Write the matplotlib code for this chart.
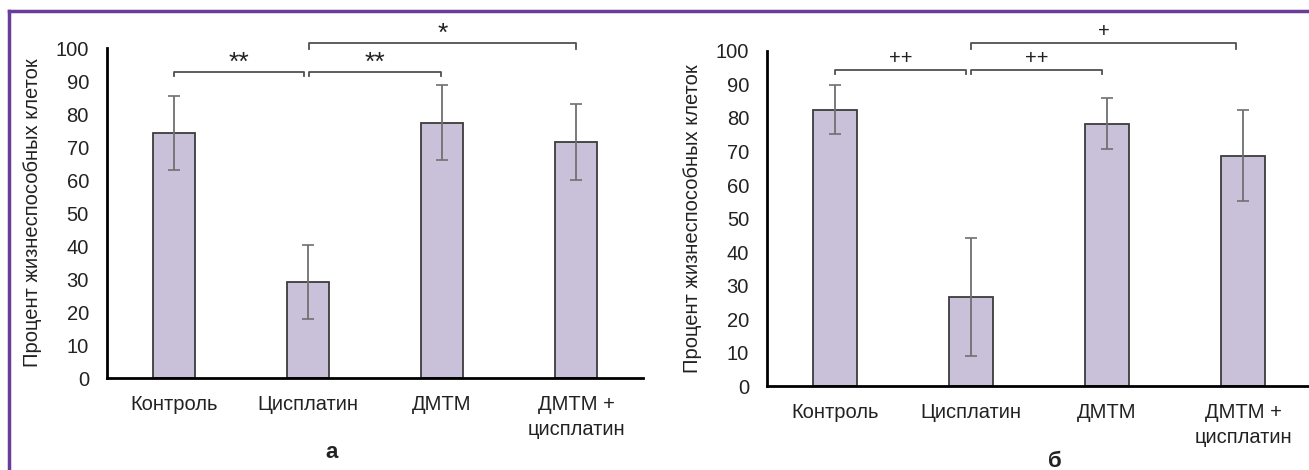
import matplotlib
matplotlib.use("Agg")
import matplotlib.pyplot as plt
from matplotlib.lines import Line2D

plt.rcParams['font.family'] = ['Liberation Sans', 'DejaVu Sans']

categories = ["Контроль", "Цисплатин", "ДМТМ", "ДМТМ +\nцисплатин"]
y_label = "Процент жизнеспособных клеток"
yticks = [0, 10, 20, 30, 40, 50, 60, 70, 80, 90, 100]

# panel а
values_a = [74.3, 29.1, 77.4, 71.6]
errors_a = [11.3, 11.3, 11.4, 11.4]
brackets_a = [(0.0, 0.97, 92.7, "**"), (1.01, 1.99, 92.7, "**"), (1.01, 3.0, 101.5, "*")]

# panel б
values_b = [82.5, 26.7, 78.3, 68.8]
errors_b = [7.3, 17.6, 7.6, 13.7]
brackets_b = [(0.0, 0.96, 94.3, "++"), (1.0, 1.96, 94.3, "++"), (1.0, 2.95, 102.5, "+")]

BAR = "#c9c0da"
EDGE = "#3c3c3c"
ERR = "#707070"
BRK = "#505050"
FS = 14.5


def draw_panel(ax, values, errors, brackets, letter, letter_x):
    x = list(range(len(categories)))
    ax.bar(x, values, width=0.32, color=BAR, edgecolor=EDGE, linewidth=1.3, zorder=2)
    ax.errorbar(x, values, yerr=errors, fmt="none", ecolor=ERR, elinewidth=1.3,
                capsize=4, capthick=1.2, zorder=3)
    ax.set_xlim(-0.5, 3.5)
    ax.set_ylim(0, 100)
    ax.set_yticks(yticks)
    ax.set_xticks(x)
    ax.set_xticklabels(categories, fontsize=FS, linespacing=1.45, color="#222222")
    ax.tick_params(axis="y", length=0, pad=13, labelsize=FS, labelcolor="#222222")
    ax.tick_params(axis="x", length=0, pad=12)
    for s in ("top", "right"):
        ax.spines[s].set_visible(False)
    for s in ("left", "bottom"):
        ax.spines[s].set_linewidth(2)
        ax.spines[s].set_color("black")
    ax.set_ylabel(y_label, fontsize=FS, color="#222222", labelpad=10)

    for x0, x1, h, lab in brackets:
        drop = 1.2 if h < 100 else 1.8
        ax.plot([x0, x0, x1, x1], [h - drop, h, h, h - drop], color=BRK, lw=1.3,
                clip_on=False, zorder=4)
        if "*" in lab:
            size, off = 19, -1.8
        else:
            size, off = FS, 1.5
        ax.annotate(lab, xy=((x0 + x1) / 2, h), xytext=(0, off), textcoords="offset points",
                    ha="center", va="bottom", fontsize=size, color="#222222",
                    annotation_clip=False)

    ax.text(letter_x, -0.225, letter, transform=ax.transAxes, ha="center", va="center",
            fontsize=16, fontweight="bold", color="#222222")


fig = plt.figure(figsize=(13.09, 4.70), dpi=100)
ax_a = fig.add_axes([0.0817, 0.1957, 0.4095, 0.7015])
ax_b = fig.add_axes([0.586, 0.1787, 0.4155, 0.7128])

draw_panel(ax_a, values_a, errors_a, brackets_a, "а", (332 - 107) / 536)
draw_panel(ax_b, values_b, errors_b, brackets_b, "б", (1055 - 767) / 544)

# purple frame
fig.add_artist(Line2D([9 / 1309, 9 / 1309], [0, 1 - 11 / 470], transform=fig.transFigure,
                      color="#6a3d9a", lw=2.5))
fig.add_artist(Line2D([9 / 1309, 1], [1 - 11 / 470, 1 - 11 / 470], transform=fig.transFigure,
                      color="#6a3d9a", lw=2.5))

fig.savefig("out.png", dpi=100)
